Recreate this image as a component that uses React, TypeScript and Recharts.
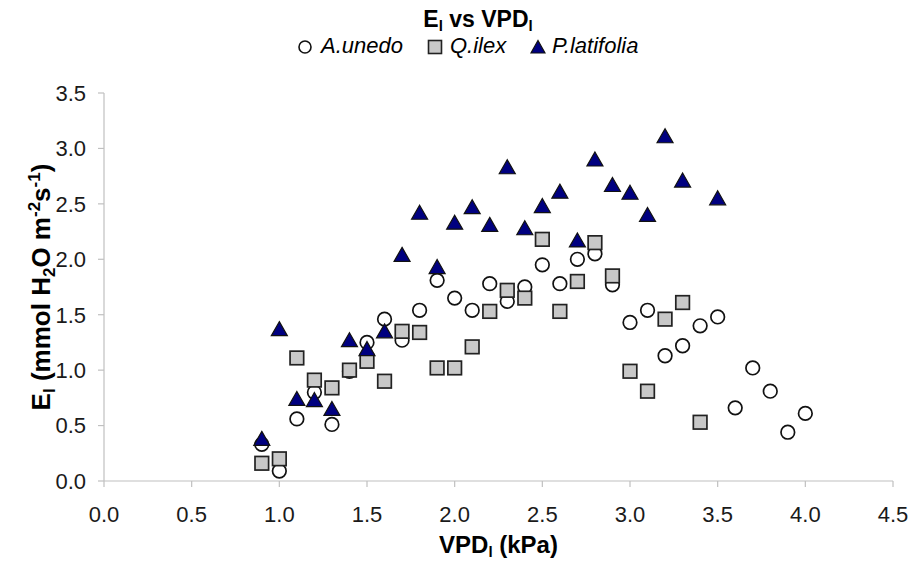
import React from 'react';
import { ScatterChart, Scatter, XAxis, YAxis, Label } from 'recharts';

const FONT = '"Liberation Sans", Arial, Helvetica, sans-serif';

// ---------- data ----------
const xTicks = [0, 0.5, 1.0, 1.5, 2.0, 2.5, 3.0, 3.5, 4.0, 4.5];
const yTicks = [0, 0.5, 1.0, 1.5, 2.0, 2.5, 3.0, 3.5];

const unedoX = [0.9, 1.0, 1.1, 1.2, 1.3, 1.4, 1.5, 1.6, 1.7, 1.8, 1.9, 2.0, 2.1, 2.2, 2.3, 2.4, 2.5, 2.6, 2.7, 2.8, 2.9, 3.0, 3.1, 3.2, 3.3, 3.4, 3.5, 3.6, 3.7, 3.8, 3.9, 4.0];
const unedoY = [0.33, 0.09, 0.56, 0.80, 0.51, 0.99, 1.25, 1.46, 1.27, 1.54, 1.81, 1.65, 1.54, 1.78, 1.62, 1.75, 1.95, 1.78, 2.00, 2.05, 1.77, 1.43, 1.54, 1.13, 1.22, 1.40, 1.48, 0.66, 1.02, 0.81, 0.44, 0.61];

const ilexX = [0.9, 1.0, 1.1, 1.2, 1.3, 1.4, 1.5, 1.6, 1.7, 1.8, 1.9, 2.0, 2.1, 2.2, 2.3, 2.4, 2.5, 2.6, 2.7, 2.8, 2.9, 3.0, 3.1, 3.2, 3.3, 3.4];
const ilexY = [0.16, 0.20, 1.11, 0.91, 0.84, 1.00, 1.08, 0.90, 1.35, 1.34, 1.02, 1.02, 1.21, 1.53, 1.72, 1.65, 2.18, 1.53, 1.80, 2.15, 1.85, 0.99, 0.81, 1.46, 1.61, 0.53];

const latifoliaX = [0.9, 1.0, 1.1, 1.2, 1.3, 1.4, 1.5, 1.6, 1.7, 1.8, 1.9, 2.0, 2.1, 2.2, 2.3, 2.4, 2.5, 2.6, 2.7, 2.8, 2.9, 3.0, 3.1, 3.2, 3.3, 3.5];
const latifoliaY = [0.38, 1.37, 0.74, 0.73, 0.65, 1.27, 1.19, 1.35, 2.04, 2.42, 1.93, 2.33, 2.47, 2.31, 2.83, 2.28, 2.48, 2.61, 2.17, 2.90, 2.67, 2.60, 2.40, 3.11, 2.71, 2.55];

const seriesNames = ['A.unedo', 'Q.ilex', 'P.latifolia'];

const toPoints = (xs: number[], ys: number[]) => xs.map((x, i) => ({ x, y: ys[i] }));
const unedoData = toPoints(unedoX, unedoY);
const ilexData = toPoints(ilexX, ilexY);
const latifoliaData = toPoints(latifoliaX, latifoliaY);

// ---------- markers ----------
const CircleShape = (p: any) => (
  <circle cx={p.cx} cy={p.cy} r={6.8} fill="#ffffff" stroke="#111" strokeWidth={1.7} />
);
const SquareShape = (p: any) => (
  <rect x={p.cx - 6.8} y={p.cy - 6.8} width={13.6} height={13.6} fill="#c8c8c8" stroke="#222" strokeWidth={1.7} />
);
const TriangleShape = (p: any) => (
  <polygon
    points={`${p.cx},${p.cy - 7.5} ${p.cx + 8},${p.cy + 6.5} ${p.cx - 8},${p.cy + 6.5}`}
    fill="#000080"
    stroke="#111"
    strokeWidth={1.2}
  />
);

// ---------- axis labels ----------
const XLabel = (props: any) => {
  const vb = props.viewBox || {};
  const cx = (vb.x ?? 104) + (vb.width ?? 789) / 2;
  return (
    <text x={cx} y={553} textAnchor="middle" fontFamily={FONT} fontSize={24} fontWeight="bold" fill="#000">
      <tspan>VPD</tspan>
      <tspan fontSize={15} dy={4}>l</tspan>
      <tspan dy={-4}> (kPa)</tspan>
    </text>
  );
};

const YLabel = (props: any) => {
  const vb = props.viewBox || {};
  const cy = (vb.y ?? 93) + (vb.height ?? 388) / 2;
  const x = 50;
  return (
    <text
      x={x}
      y={cy}
      transform={`rotate(-90, ${x}, ${cy})`}
      textAnchor="middle"
      fontFamily={FONT}
      fontSize={26}
      fontWeight="bold"
      fill="#000"
    >
      <tspan>E</tspan>
      <tspan fontSize={17} dy={5}>l</tspan>
      <tspan dy={-5}> (mmol H</tspan>
      <tspan fontSize={17} dy={5}>2</tspan>
      <tspan dy={-5}>O m</tspan>
      <tspan fontSize={17} dy={-10}>-2</tspan>
      <tspan dy={10}>s</tspan>
      <tspan fontSize={17} dy={-10}>-1</tspan>
      <tspan dy={10}>)</tspan>
    </text>
  );
};

const tickStyle = { fill: '#1a1a1a', fontSize: 22, fontFamily: FONT };

export default function App() {
  return (
    <div style={{ position: 'relative', width: 912, height: 563, background: '#fff', fontFamily: FONT }}>
      <style>{`body{margin:0;background:#fff;}`}</style>
      {/* title */}
      <div
        style={{
          position: 'absolute',
          left: 278,
          width: 400,
          top: 8,
          textAlign: 'center',
          fontSize: 23,
          lineHeight: '23px',
          fontWeight: 'bold',
          color: '#000',
          whiteSpace: 'nowrap',
        }}
      >
        E<span style={{ fontSize: 15, position: 'relative', top: 4 }}>l</span> vs VPD
        <span style={{ fontSize: 15, position: 'relative', top: 4 }}>l</span>
      </div>
      {/* legend */}
      <div style={{ position: 'absolute', top: 35, left: 0, width: 912, height: 26, fontSize: 22, lineHeight: '22px', fontStyle: 'italic', color: '#000' }}>
        <svg style={{ position: 'absolute', left: 297, top: 4 }} width={16} height={16}>
          <circle cx={8} cy={8} r={6} fill="#fff" stroke="#111" strokeWidth={1.6} />
        </svg>
        <span style={{ position: 'absolute', left: 321, top: 0 }}>{seriesNames[0]}</span>
        <svg style={{ position: 'absolute', left: 427, top: 4 }} width={16} height={16}>
          <rect x={1.5} y={1.5} width={13} height={13} fill="#c8c8c8" stroke="#222" strokeWidth={1.6} />
        </svg>
        <span style={{ position: 'absolute', left: 450, top: 0 }}>{seriesNames[1]}</span>
        <svg style={{ position: 'absolute', left: 530, top: 4 }} width={16} height={16}>
          <polygon points="8,1.5 15,14 1,14" fill="#000080" stroke="#111" strokeWidth={1.2} />
        </svg>
        <span style={{ position: 'absolute', left: 552, top: 0 }}>{seriesNames[2]}</span>
      </div>
      <ScatterChart width={912} height={563} margin={{ top: 93, right: 19, bottom: 0, left: 0 }}>
        <XAxis
          type="number"
          dataKey="x"
          domain={[0, 4.5]}
          ticks={xTicks}
          interval={0}
          tickFormatter={(v: number) => v.toFixed(1)}
          axisLine={{ stroke: '#c0c0c0', strokeWidth: 1.2 }}
          tickLine={{ stroke: '#c0c0c0', strokeWidth: 1.2 }}
          tickSize={6}
          tickMargin={19}
          tick={tickStyle}
          height={82}
          allowDataOverflow
        >
          <Label content={XLabel} />
        </XAxis>
        <YAxis
          type="number"
          dataKey="y"
          domain={[0, 3.5]}
          ticks={yTicks}
          interval={0}
          tickFormatter={(v: number) => v.toFixed(1)}
          axisLine={{ stroke: '#c0c0c0', strokeWidth: 1.2 }}
          tickLine={{ stroke: '#c0c0c0', strokeWidth: 1.2 }}
          tickSize={6}
          tickMargin={12}
          tick={tickStyle}
          width={104}
          allowDataOverflow
        >
          <Label content={YLabel} />
        </YAxis>
        <Scatter name={seriesNames[0]} data={unedoData} shape={CircleShape} isAnimationActive={false} />
        <Scatter name={seriesNames[1]} data={ilexData} shape={SquareShape} isAnimationActive={false} />
        <Scatter name={seriesNames[2]} data={latifoliaData} shape={TriangleShape} isAnimationActive={false} />
      </ScatterChart>
    </div>
  );
}
